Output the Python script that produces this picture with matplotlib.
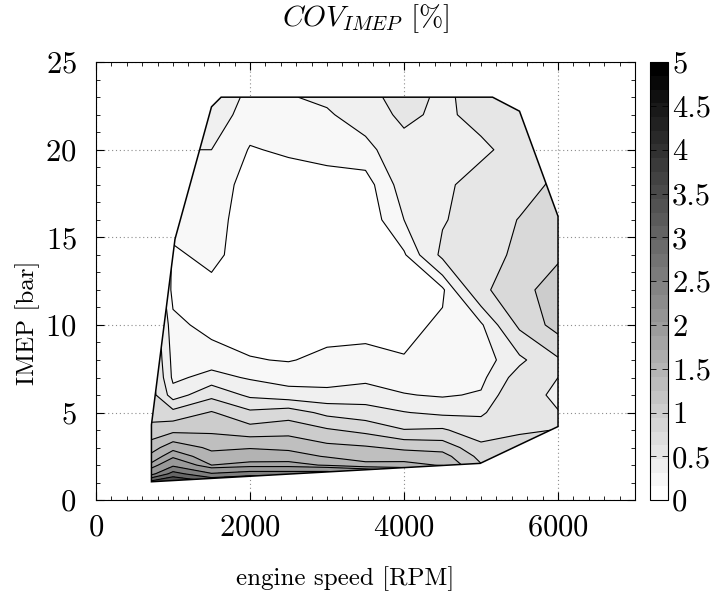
import numpy as np
import matplotlib
matplotlib.use("Agg")
import matplotlib.pyplot as plt
from matplotlib.patches import Polygon
from matplotlib.colors import Normalize
from matplotlib.cm import ScalarMappable
from matplotlib.ticker import MultipleLocator, FormatStrFormatter

plt.rcParams["font.family"] = "cmr10"
plt.rcParams["mathtext.fontset"] = "cm"
plt.rcParams["axes.formatter.use_mathtext"] = True

# ---- data -------------------------------------------------------------
speed = [720, 1000, 1500, 2000, 2500, 3000, 3500, 4000, 4500, 5000, 5500, 6000]
imep = [1, 1.5, 2, 2.5, 3, 4, 5, 6, 7, 8, 10, 12, 14, 16, 18, 20, 22, 23]

# COV_IMEP [%] per speed column (values along imep)
cov_720 = [3.8, 2.35, 1.82, 1.57, 1.39, 1.08, 0.9, 0.85, 0.8, 0.75, 0.7, 0.6, 0.5, 0.4, 0.35, 0.35, 0.4, 0.4]
cov_1000 = [4.1, 3.2, 2.4, 1.93, 1.66, 1.18, 0.83, 0.38, 0.26, 0.24, 0.19, 0.1, 0.12, 0.22, 0.25, 0.3, 0.35, 0.4]
cov_1500 = [3.6, 2.55, 1.75, 1.58, 1.45, 1.2, 1.02, 0.68, 0.36, 0.22, 0.1, 0.1, 0.2, 0.22, 0.25, 0.3, 0.4, 0.45]
cov_2000 = [3.9, 2.75, 1.85, 1.58, 1.49, 1.1, 0.8, 0.45, 0.28, 0.16, 0.07, 0.05, 0.05, 0.06, 0.08, 0.14, 0.22, 0.25]
cov_2500 = [3.7, 2.75, 1.85, 1.6, 1.45, 1.15, 0.88, 0.36, 0.24, 0.14, 0.04, 0.03, 0.02, 0.04, 0.08, 0.17, 0.25, 0.29]
cov_3000 = [3.5, 2.8, 1.72, 1.48, 1.32, 1.03, 0.68, 0.33, 0.26, 0.19, 0.08, 0.04, 0.04, 0.05, 0.09, 0.2, 0.28, 0.33]
cov_3500 = [3.4, 2.6, 1.55, 1.42, 1.28, 0.93, 0.6, 0.38, 0.26, 0.22, 0.07, 0.03, 0.03, 0.04, 0.08, 0.25, 0.38, 0.42]
cov_4000 = [2.8, 2.2, 1.58, 1.38, 1.2, 0.76, 0.51, 0.31, 0.22, 0.16, 0.1, 0.1, 0.13, 0.3, 0.38, 0.42, 0.55, 0.6]
cov_4500 = [2.3, 2.0, 1.48, 1.35, 1.15, 0.78, 0.45, 0.28, 0.22, 0.2, 0.18, 0.12, 0.55, 0.48, 0.45, 0.47, 0.45, 0.45]
cov_5000 = [2.0, 1.7, 1.02, 0.92, 0.82, 0.6, 0.47, 0.32, 0.25, 0.2, 0.27, 0.7, 0.65, 0.62, 0.6, 0.45, 0.58, 0.6]
cov_5500 = [1.3, 1.2, 1.1, 1.0, 0.9, 0.7, 0.68, 0.72, 0.6, 0.45, 0.8, 0.9, 0.8, 0.76, 0.65, 0.6, 0.55, 0.55]
cov_6000 = [0.9, 0.85, 0.8, 0.78, 0.77, 0.76, 0.52, 0.4, 0.5, 0.72, 1.1, 1.15, 0.95, 0.85, 0.8, 0.75, 0.7, 0.7]

# measured operating range (envelope)
envelope_speed = [720, 720, 1026, 1500, 1625, 5150, 5500, 6000, 6000, 4990]
envelope_imep = [1.05, 4.3, 14.9, 22.45, 23.0, 23.0, 22.2, 16.2, 4.2, 2.1]

levels = [0, 0.15, 0.3, 0.5, 0.75, 1.0, 1.25, 1.5, 1.75, 2.0, 2.5, 3.0, 3.5, 4.0, 5.0]
cbar_ticks = [0, 0.5, 1, 1.5, 2, 2.5, 3, 3.5, 4, 4.5, 5]

# ---- figure -----------------------------------------------------------
columns = [cov_720, cov_1000, cov_1500, cov_2000, cov_2500, cov_3000,
           cov_3500, cov_4000, cov_4500, cov_5000, cov_5500, cov_6000]
Z = np.array(columns).T
X, Y = np.meshgrid(speed, imep)

fig = plt.figure(figsize=(7.25, 5.94), dpi=100)
ax = fig.add_axes([0.1324, 0.158, 0.7435, 0.7374])

norm = Normalize(0, 5)
cmap_cont = plt.get_cmap("gray_r")
fill_colors = [cmap_cont(norm(v)) for v in levels[:-1]]

cs = ax.contourf(X, Y, Z, levels=levels, colors=fill_colors, zorder=2)
cl = ax.contour(X, Y, Z, levels=levels[1:-1], colors="black", linewidths=0.8, zorder=3)

poly = Polygon(np.column_stack([envelope_speed, envelope_imep]), closed=True,
               facecolor="none", edgecolor="none")
ax.add_patch(poly)
cs.set_clip_path(poly)
cl.set_clip_path(poly)
ax.add_patch(Polygon(np.column_stack([envelope_speed, envelope_imep]), closed=True,
                     facecolor="none", edgecolor="black", linewidth=1.1, zorder=4))

ax.set_xlim(0, 7000)
ax.set_ylim(0, 25)
ax.xaxis.set_major_locator(MultipleLocator(2000))
ax.xaxis.set_minor_locator(MultipleLocator(200))
ax.yaxis.set_major_locator(MultipleLocator(5))
ax.yaxis.set_minor_locator(MultipleLocator(1))
ax.tick_params(which="both", direction="in", top=True, right=True, labelsize=22)
ax.tick_params(which="major", length=6, width=0.8)
ax.tick_params(axis="x", which="major", pad=10)
ax.tick_params(axis="y", which="major", pad=14)
ax.tick_params(which="minor", length=3, width=0.6)
ax.set_axisbelow(True)
ax.grid(True, which="major", linestyle=(0, (1, 2.5)), color="0.55", linewidth=0.8)
for s in ax.spines.values():
    s.set_linewidth(0.8)

ax.set_xlabel("engine speed [RPM]", fontsize=18)
ax.xaxis.set_label_coords(0.463, -0.15)
ax.set_ylabel("IMEP [bar]", fontsize=18)
ax.yaxis.set_label_coords(-0.104, 0.405)
ax.set_title(r"$COV_{IMEP}$ [%]", fontsize=21, pad=26)

cax = fig.add_axes([0.8966, 0.158, 0.0248, 0.7374])
sm = ScalarMappable(norm=norm, cmap=plt.get_cmap("gray_r").resampled(32))
cb = fig.colorbar(sm, cax=cax, ticks=cbar_ticks)
cb.ax.yaxis.set_major_formatter(FormatStrFormatter("%g"))
cb.ax.tick_params(direction="in", left=True, right=True, length=4, width=0.6,
                  labelsize=22, pad=3)
cb.outline.set_linewidth(0.8)

fig.savefig("out.png", dpi=100)
